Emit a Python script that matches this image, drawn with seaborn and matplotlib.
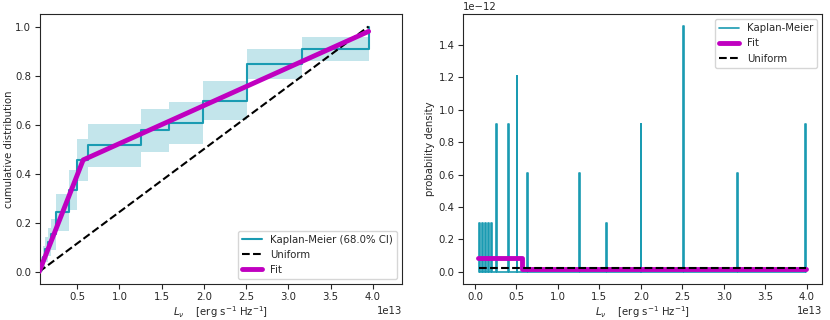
import numpy as np
import pandas as pd
import matplotlib
matplotlib.use("Agg")
import matplotlib.pyplot as plt
import seaborn as sns

sns.set_style("ticks")
plt.rcParams["font.family"] = ["DejaVu Sans"]
plt.rcParams["font.size"] = 7.3

# ---- data (x in erg s^-1 Hz^-1) ----
km_x = np.array([0.05, 0.09, 0.12, 0.155, 0.19, 0.251, 0.398, 0.501, 0.631,
                 1.259, 1.585, 1.995, 2.512, 3.162, 3.95]) * 1e13
km_cdf = [0.030, 0.061, 0.091, 0.121, 0.152, 0.242, 0.333, 0.455, 0.515,
          0.576, 0.606, 0.697, 0.848, 0.909, 1.0]
km_lo = [0.0, 0.019, 0.041, 0.064, 0.089, 0.168, 0.251, 0.368, 0.428,
         0.490, 0.521, 0.617, 0.786, 0.859, 1.0]
km_hi = [0.060, 0.103, 0.141, 0.178, 0.214, 0.317, 0.415, 0.541, 0.602,
         0.662, 0.691, 0.777, 0.910, 0.959, 1.0]

fit_x = np.array([0.05, 0.571, 3.95]) * 1e13
fit_cdf = [0.0, 0.456, 0.98]

unif_x = np.array([0.05, 3.95]) * 1e13
unif_cdf = [0.0, 1.0]

# density panel
spike_x = np.array([0.05, 0.09, 0.12, 0.155, 0.19, 0.251, 0.398, 0.501, 0.631,
                    1.259, 1.585, 1.995, 2.512, 3.162, 3.981]) * 1e13
spike_h = np.array([0.30, 0.30, 0.30, 0.30, 0.30, 0.91, 0.91, 1.21, 0.61,
                    0.61, 0.30, 0.91, 1.52, 0.61, 0.91]) * 1e-12
spike_w = 0.01e13

fit_pdf_x = np.array([0.04, 0.571, 0.571, 3.99]) * 1e13
fit_pdf_y = np.array([0.0875, 0.0875, 0.0155, 0.0155]) * 1e-12

unif_pdf_x = np.array([0.05, 3.99]) * 1e13
unif_pdf_y = np.array([0.0253, 0.0253]) * 1e-12

TEAL = "#1a9bb2"
BAND = "#c3e5eb"
MAG = "#c000c0"

fig = plt.figure(figsize=(8.3, 3.2), dpi=100)
ax1 = fig.add_axes([0.0476, 0.1125, 0.4367, 0.843])
ax2 = fig.add_axes([0.5575, 0.1125, 0.4333, 0.843])

# ---- left: cumulative ----
ax1.fill_between(km_x, km_lo, km_hi, step="post", color=BAND, lw=0, zorder=1)
sns.lineplot(x=km_x, y=km_cdf, ax=ax1, color=TEAL, lw=1.5, drawstyle="steps-post",
             estimator=None, sort=False, label="Kaplan-Meier (68.0% CI)", zorder=3)
sns.lineplot(x=unif_x, y=unif_cdf, ax=ax1, color="k", lw=1.5, linestyle="--",
             estimator=None, sort=False, label="Uniform", zorder=4)
sns.lineplot(x=fit_x, y=fit_cdf, ax=ax1, color=MAG, lw=3.5,
             estimator=None, sort=False, label="Fit", zorder=5)
ax1.set_xlim(0.054e13, 4.345e13)
ax1.set_ylim(-0.05, 1.05)
ax1.set_xticks(np.arange(0.5, 4.01, 0.5) * 1e13)
ax1.set_ylabel("cumulative distribution", labelpad=1)
ax1.set_xlabel(r"$L_\nu$    [erg s$^{-1}$ Hz$^{-1}$]", labelpad=1)
ax1.legend(loc="lower right", fontsize=7.3)

# ---- right: density ----
dx = [0.05e13]
dy = [0.0]
for px, h in zip(spike_x, spike_h):
    dx += [px, px, px + spike_w, px + spike_w]
    dy += [0.0, h, h, 0.0]
dens = pd.DataFrame({"x": dx, "y": dy})
sns.lineplot(data=dens, x="x", y="y", ax=ax2, color=TEAL, lw=1.2,
             estimator=None, sort=False, label="Kaplan-Meier", zorder=3)
sns.lineplot(x=fit_pdf_x, y=fit_pdf_y, ax=ax2, color=MAG, lw=3.5,
             estimator=None, sort=False, label="Fit", zorder=4)
sns.lineplot(x=unif_pdf_x, y=unif_pdf_y, ax=ax2, color="k", lw=1.5, linestyle="--",
             estimator=None, sort=False, label="Uniform", zorder=5)
ax2.set_xlim(-0.147e13, 4.186e13)
ax2.set_ylim(-0.076e-12, 1.59e-12)
ax2.set_ylabel("probability density", labelpad=2)
ax2.set_xlabel(r"$L_\nu$    [erg s$^{-1}$ Hz$^{-1}$]", labelpad=1)
ax2.legend(loc="upper right", fontsize=7.3)

for ax in (ax1, ax2):
    for s in ax.spines.values():
        s.set_visible(True)
        s.set_linewidth(0.8)
    ax.tick_params(labelsize=7.3, length=3.5, width=0.8, pad=2.5)

fig.savefig("out.png", dpi=100)
